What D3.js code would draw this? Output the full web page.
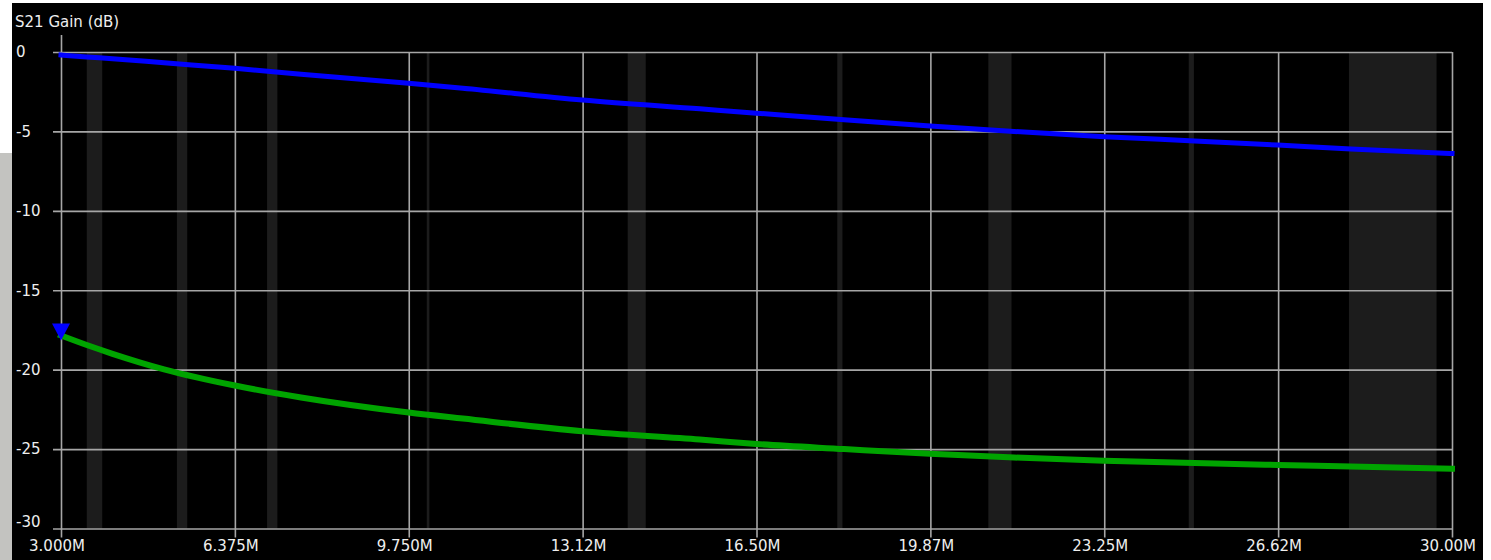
<!DOCTYPE html>
<html>
<head>
<meta charset="utf-8">
<script src="https://cdn.jsdelivr.net/npm/d3@7"></script>
<style>
  html, body { margin: 0; padding: 0; background: #ffffff; }
  svg { display: block; }
  text { font-family: "DejaVu Sans", sans-serif; font-size: 15px; fill: #eeeeee; }
</style>
</head>
<body>
<svg id="chart" width="1491" height="560"></svg>
<script>
// Frequency sweep (MHz) and the two S21 gain traces (dB)
const freqMHz = [3, 3.5, 4, 5, 6.375, 7.66, 9.75, 10.8, 13.12, 15.4, 16.5, 18.2, 19.87, 21.5, 23.25, 25, 26.62, 28.04, 30];
const gainBlue = [-0.19, -0.31, -0.42, -0.68, -1.03, -1.4, -1.97, -2.28, -3.02, -3.58, -3.85, -4.27, -4.66, -5.0, -5.33, -5.6, -5.86, -6.1, -6.39];
const gainGreen = [-17.85, -18.45, -19.0, -19.98, -21.0, -21.75, -22.7, -23.08, -23.88, -24.4, -24.68, -25.0, -25.3, -25.53, -25.73, -25.88, -26.0, -26.1, -26.24];

// Highlighted amateur bands (MHz)
const bandLo = [3.5, 5.25, 7.0, 10.1, 14.0, 18.068, 21.0, 24.89, 28.0];
const bandHi = [3.8, 5.45, 7.2, 10.15, 14.35, 18.168, 21.45, 24.99, 29.7];

// Axis ticks
const xTickValues = [3, 6.375, 9.75, 13.125, 16.5, 19.875, 23.25, 26.625, 30];
const xTickLabels = ["3.000M", "6.375M", "9.750M", "13.12M", "16.50M", "19.87M", "23.25M", "26.62M", "30.00M"];
const yTickValues = [0, -5, -10, -15, -20, -25, -30];
const yTickLabels = ["0", "-5", "-10", "-15", "-20", "-25", "-30"];
const axisTitle = "S21 Gain (dB)";

const svg = d3.select("#chart");

// Window frame: white edges, grey strip on the left, black panel
svg.append("rect").attr("x", 0).attr("y", 0).attr("width", 1491).attr("height", 560).attr("fill", "#ffffff");
svg.append("rect").attr("x", 0).attr("y", 153).attr("width", 12).attr("height", 407).attr("fill", "#c3c3c0");
svg.append("rect").attr("x", 12).attr("y", 3).attr("width", 1471).attr("height", 557).attr("fill", "#000000");

const x = d3.scaleLinear().domain([3, 30]).range([61, 1452]);
const y = d3.scaleLinear().domain([0, -30]).range([52, 528.5]);

// Band shading
svg.append("g").selectAll("rect")
  .data(bandLo.map((lo, i) => ({ lo, hi: bandHi[i] })))
  .join("rect")
  .attr("x", d => x(d.lo))
  .attr("y", y(0))
  .attr("width", d => Math.max(1.5, x(d.hi) - x(d.lo)))
  .attr("height", y(-30) - y(0))
  .attr("fill", "#1c1c1c");

const gridColor = "#a6a6a6";

// Horizontal grid lines (with short ticks to the left)
const yAxis = d3.axisLeft(y)
  .tickValues(yTickValues)
  .tickSize(-(x(30) - x(3)) - 8)
  .tickFormat("");
svg.append("g")
  .attr("transform", `translate(${x(30)},0)`)
  .call(yAxis)
  .call(g => g.select(".domain").remove())
  .call(g => g.selectAll(".tick line").attr("stroke", gridColor).attr("stroke-width", 1.6)
    .attr("x1", 0).attr("x2", -(x(30) - x(3)) - 8));

// Vertical grid lines (with short ticks below)
const xAxis = d3.axisBottom(x)
  .tickValues(xTickValues)
  .tickSize(0)
  .tickFormat("");
svg.append("g")
  .attr("transform", `translate(0,${y(0)})`)
  .call(xAxis)
  .call(g => g.select(".domain").remove())
  .call(g => g.selectAll(".tick line").attr("stroke", gridColor).attr("stroke-width", 1.6)
    .attr("y1", d => d === 3 ? -17 : 0)
    .attr("y2", y(-30) - y(0) + 9));

// Y tick labels
svg.append("g").selectAll("text")
  .data(yTickValues)
  .join("text")
  .attr("x", 16)
  .attr("y", d => Math.min(y(d), 522))
  .attr("dy", "0.36em")
  .text((d, i) => yTickLabels[i]);

// X tick labels
svg.append("g").selectAll("text")
  .data(xTickValues)
  .join("text")
  .attr("x", d => x(d) - 4)
  .attr("y", 551)
  .attr("text-anchor", "middle")
  .text((d, i) => xTickLabels[i]);

// Axis title
svg.append("text").attr("x", 15).attr("y", 27).text(axisTitle);

// Traces
const line = d3.line()
  .x(d => x(d[0]))
  .y(d => y(d[1]))
  .curve(d3.curveMonotoneX);

svg.append("path")
  .datum(freqMHz.map((f, i) => [f, gainGreen[i]]))
  .attr("d", line)
  .attr("fill", "none")
  .attr("stroke", "#00a400")
  .attr("stroke-width", 6)
  .attr("stroke-linecap", "square");

svg.append("path")
  .datum(freqMHz.map((f, i) => [f, gainBlue[i]]))
  .attr("d", line)
  .attr("fill", "none")
  .attr("stroke", "#0000ff")
  .attr("stroke-width", 5)
  .attr("stroke-linecap", "square");

// Marker on the start of the lower trace
const mx = x(freqMHz[0]);
const my = y(gainGreen[0]);
svg.append("path")
  .attr("d", `M${mx - 9},${my - 12}L${mx + 9},${my - 12}L${mx},${my + 5}Z`)
  .attr("fill", "#0000ff");
</script>
</body>
</html>
